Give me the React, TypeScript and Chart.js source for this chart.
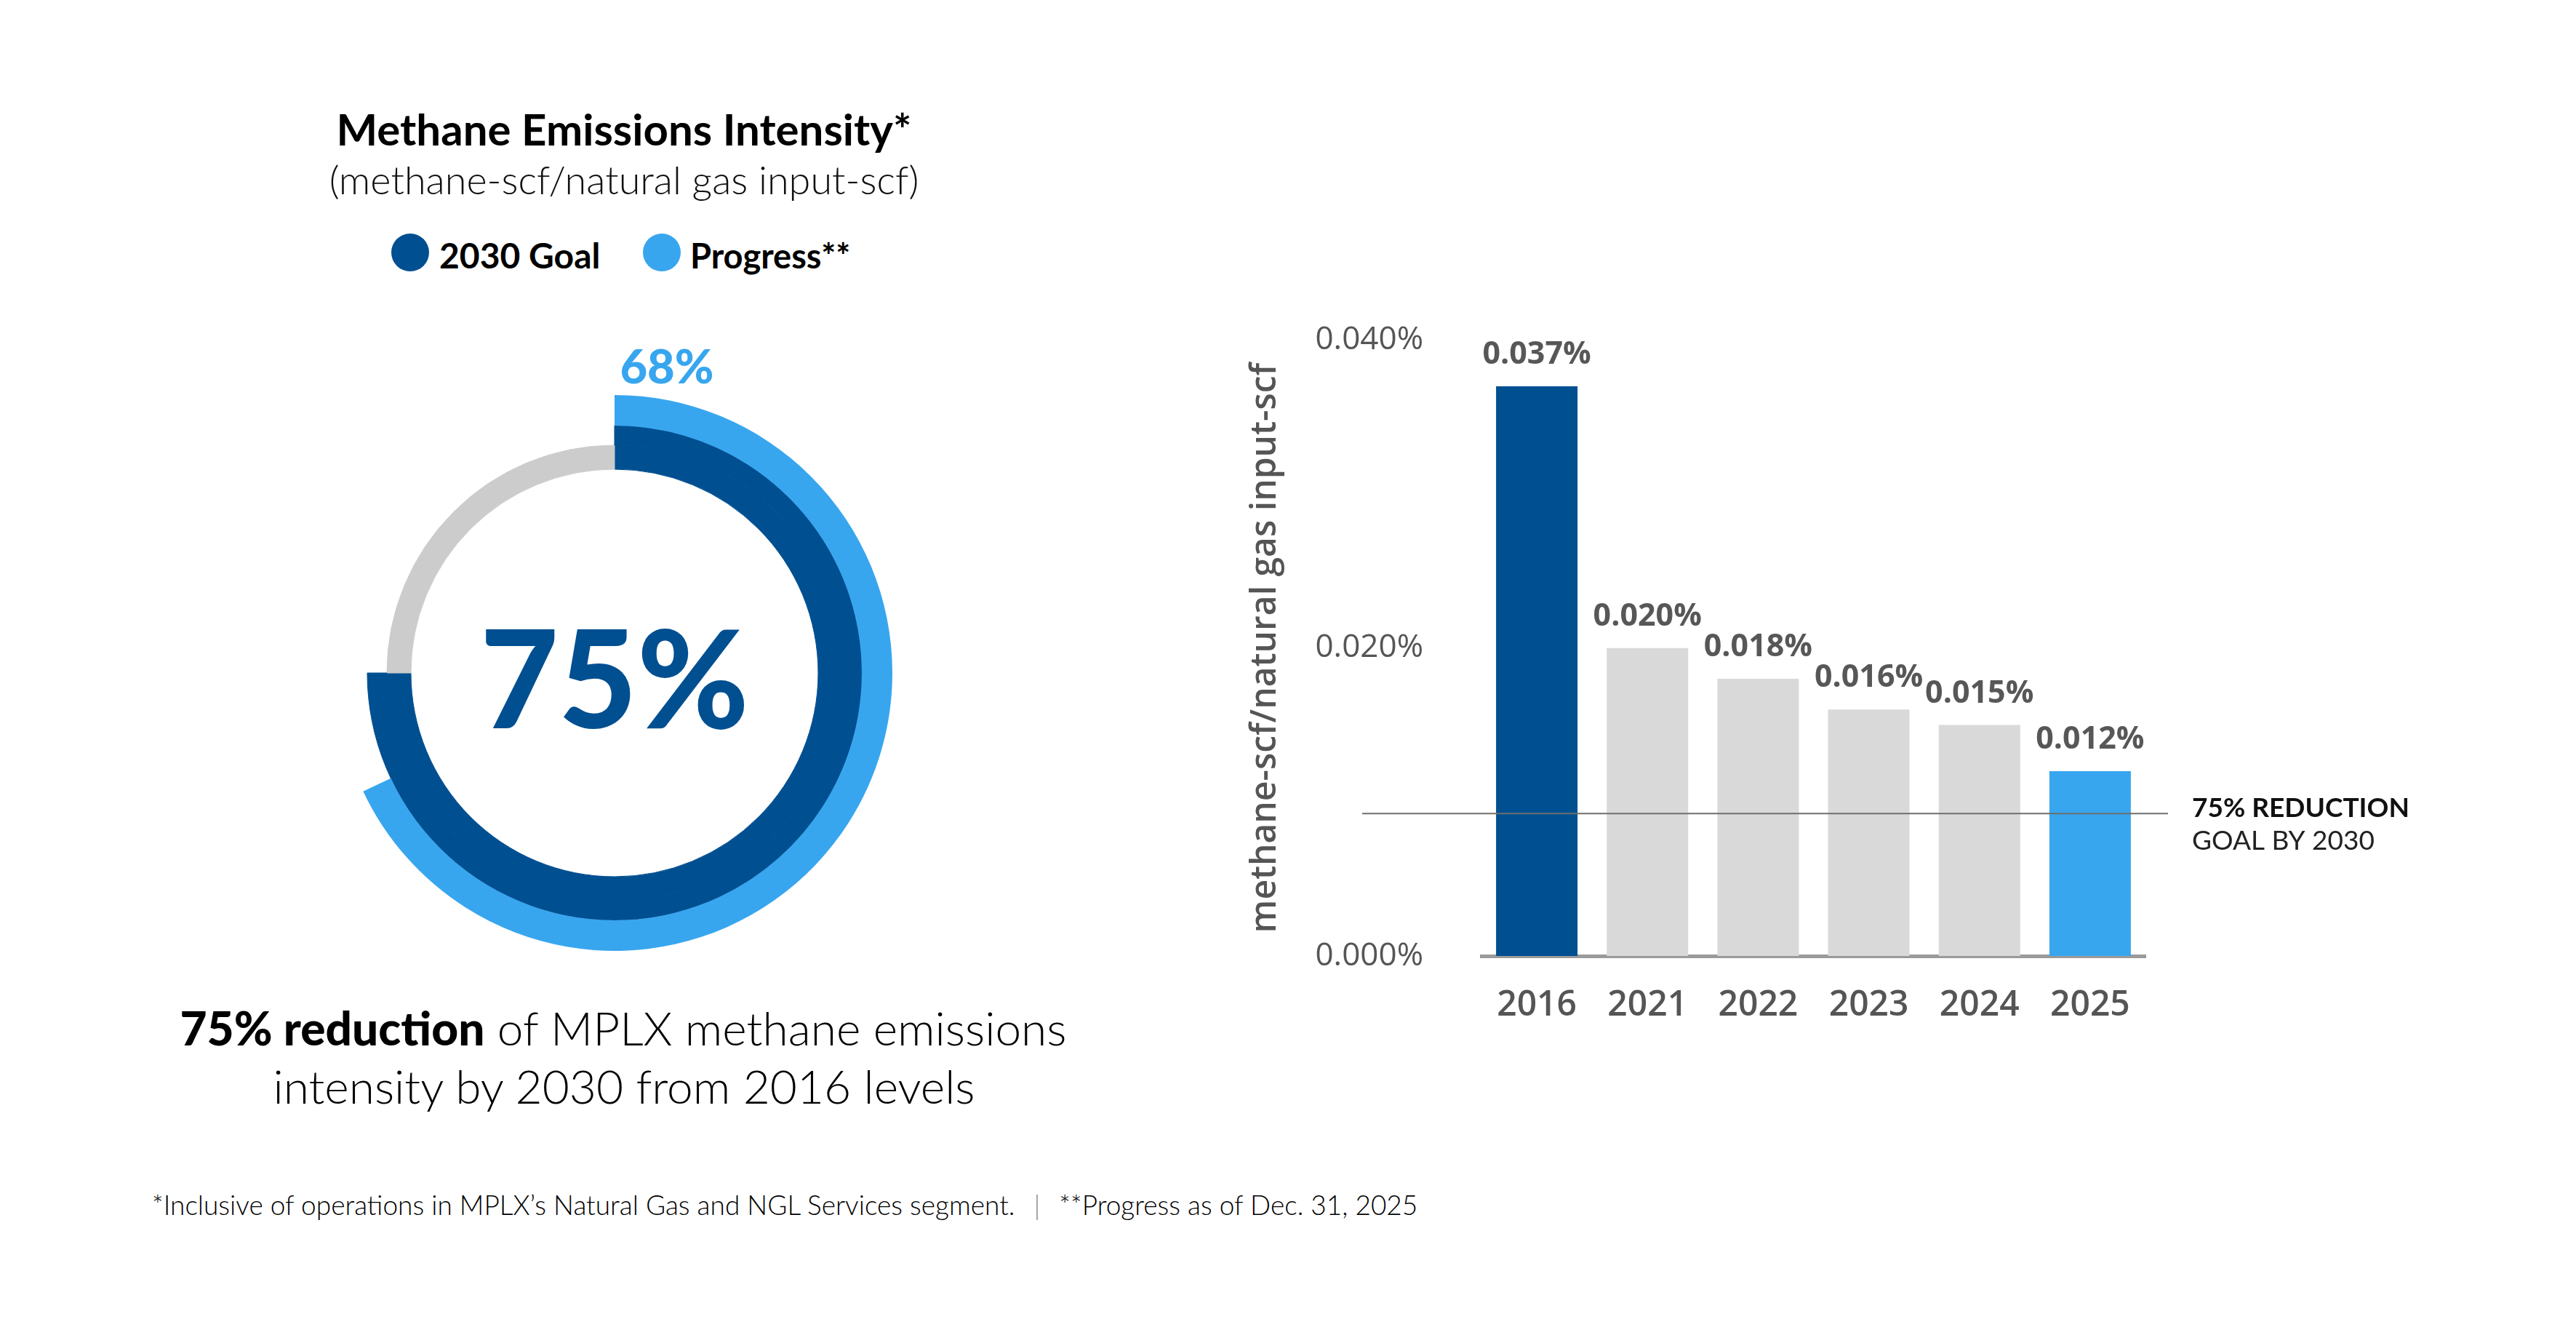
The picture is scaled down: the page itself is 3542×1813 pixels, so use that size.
import React, { useEffect, useRef } from 'react'
import { Chart, registerables } from 'chart.js'

Chart.register(...registerables)

// bar chart data
const years = ['2016', '2021', '2022', '2023', '2024', '2025']
const intensity = [0.037, 0.02, 0.018, 0.016, 0.015, 0.012]
const yTicks = [0, 0.02, 0.04]
const goalIntensity = 0.00925

// donut data (percent)
const goalPct = 75
const progressPct = 68

const DARK = '#004f91'
const LIGHT = '#38a6ef'
const BAR_GRAY = '#d9d9d9'
const RING_GRAY = '#cccccc'
const TEXT_GRAY = '#555555'
const CLEAR = 'rgba(0,0,0,0)'

const barColors = years.map((_, i) => (i === 0 ? DARK : i === years.length - 1 ? LIGHT : BAR_GRAY))

// text placed by baseline (Lato metrics, line-height = font size)
const Txt = ({ x, base, size, weight = 400, align = 'center', color = '#000', children }: any) => {
  const style: any = {
    position: 'absolute',
    top: base - 0.887 * size,
    fontFamily: 'Lato, sans-serif',
    fontSize: size,
    fontWeight: weight,
    lineHeight: `${size}px`,
    color,
    whiteSpace: 'nowrap',
  }
  if (align === 'center') {
    style.left = x - 1500
    style.width = 3000
    style.textAlign = 'center'
  } else {
    style.left = x
  }
  return <div style={style}>{children}</div>
}

const Dot = ({ x, y, color }: any) => (
  <div style={{ position: 'absolute', left: x - 26, top: y - 26, width: 52, height: 52, borderRadius: '50%', background: color }} />
)

const Donut = () => {
  const ref = useRef<HTMLCanvasElement>(null)

  useEffect(() => {
    const chart = new Chart(ref.current as HTMLCanvasElement, {
      type: 'doughnut',
      data: {
        labels: ['value', 'rest'],
        datasets: [
          {
            data: [progressPct, 100 - progressPct],
            backgroundColor: [LIGHT, CLEAR],
            borderWidth: 0,
            weight: 42,
          },
          {
            data: [goalPct, 100 - goalPct],
            backgroundColor: [DARK, CLEAR],
            borderColor: [DARK, CLEAR],
            borderWidth: 1,
            weight: 27,
          },
          {
            data: [goalPct, 100 - goalPct],
            backgroundColor: [DARK, RING_GRAY],
            borderColor: [DARK, RING_GRAY],
            borderWidth: 1,
            weight: 33,
          },
        ],
      },
      options: {
        animation: false,
        responsive: false,
        events: [],
        radius: 382,
        cutout: '73.3%',
        plugins: { legend: { display: false }, tooltip: { enabled: false } },
      } as any,
    })
    return () => chart.destroy()
  }, [])

  return (
    <canvas
      ref={ref}
      width={900}
      height={900}
      style={{ position: 'absolute', left: 395, top: 475, width: 900, height: 900 }}
    />
  )
}

const barLabels = {
  id: 'barLabels',
  afterDatasetsDraw(chart: any) {
    const { ctx, chartArea, scales } = chart
    const meta = chart.getDatasetMeta(0)
    ctx.save()
    ctx.font = '700 43px "Open Sans"'
    ctx.fillStyle = '#575757'
    ctx.textAlign = 'center'
    ctx.textBaseline = 'alphabetic'
    meta.data.forEach((bar: any, i: number) => {
      ctx.fillText(intensity[i].toFixed(3) + '%', bar.x, bar.y - 31)
    })

    // 2030 goal line
    const gy = scales.y.getPixelForValue(goalIntensity)
    ctx.strokeStyle = '#6e6e6e'
    ctx.lineWidth = 2
    ctx.beginPath()
    ctx.moveTo(chartArea.left - 164, gy)
    ctx.lineTo(chartArea.right + 31, gy)
    ctx.stroke()

    ctx.textAlign = 'left'
    ctx.textBaseline = 'alphabetic'
    ctx.fillStyle = '#111'
    ctx.font = '700 37px Lato'
    ctx.fillText('75% REDUCTION', chartArea.right + 64, gy + 5)
    ctx.fillStyle = '#222'
    ctx.font = '400 37px Lato'
    ctx.fillText('GOAL BY 2030', chartArea.right + 64, gy + 50)
    ctx.restore()
  },
}

const Bars = () => {
  const ref = useRef<HTMLCanvasElement>(null)

  useEffect(() => {
    const chart = new Chart(ref.current as HTMLCanvasElement, {
      type: 'bar',
      data: {
        labels: years,
        datasets: [
          {
            data: intensity,
            backgroundColor: barColors,
            borderWidth: 0,
            categoryPercentage: 1,
            barPercentage: 0.736,
          },
        ],
      },
      options: {
        animation: false,
        responsive: false,
        events: [],
        layout: { padding: { top: 50, right: 440, left: 0, bottom: 0 } },
        plugins: { legend: { display: false }, tooltip: { enabled: false } },
        scales: {
          x: {
            grid: { display: false, drawTicks: false },
            border: { display: true, color: '#9a9a9a', width: 5 },
            ticks: {
              color: TEXT_GRAY,
              font: { family: 'Open Sans', size: 48, weight: '600' },
              padding: 40,
            },
            afterFit: (s: any) => {
              s.height = 166
            },
          },
          y: {
            min: 0,
            max: 0.04,
            afterBuildTicks: (s: any) => {
              s.ticks = yTicks.map((v) => ({ value: v }))
            },
            grid: { display: false, drawTicks: false },
            border: { display: false },
            ticks: {
              color: TEXT_GRAY,
              font: { family: 'Open Sans', size: 44 },
              padding: 80,
              callback: (v: any) => Number(v).toFixed(3) + '%',
            },
            title: {
              display: true,
              text: 'methane-scf/natural gas input-scf',
              color: TEXT_GRAY,
              font: { family: 'Open Sans', size: 48, weight: '600' },
              padding: { top: 22, bottom: 0 },
            },
            afterFit: (s: any) => {
              s.width = 347
            },
          },
        },
      } as any,
      plugins: [barLabels],
    })
    return () => chart.destroy()
  }, [])

  return (
    <canvas
      ref={ref}
      width={1700}
      height={1119}
      style={{ position: 'absolute', left: 1690, top: 361, width: 1700, height: 1119 }}
    />
  )
}

const App = () => {
  return (
    <div style={{ position: 'fixed', left: 0, top: 0, width: 3542, height: 1813, background: '#fff', overflow: 'hidden' }}>
      <Txt x={858} base={200} size={60} weight={700}>Methane Emissions Intensity*</Txt>
      <Txt x={858} base={268} size={54} weight={300} color="#111">(methane-scf/natural gas input-scf)</Txt>

      <Dot x={564} y={347} color={DARK} />
      <Txt x={604} base={370} size={48} weight={700} align="left">2030 Goal</Txt>
      <Dot x={910} y={347} color={LIGHT} />
      <Txt x={949} base={370} size={47} weight={700} align="left">Progress**</Txt>

      <Donut />
      <Txt x={917} base={528} size={65} weight={900} color={LIGHT}>{progressPct}%</Txt>
      <Txt x={845} base={1001} size={186} weight={900} color={DARK}>{goalPct}%</Txt>

      <Txt x={857} base={1438} size={64} weight={300} color="#000">
        <b style={{ fontWeight: 900 }}>75% reduction</b> of MPLX methane emissions
      </Txt>
      <Txt x={858} base={1518} size={64} weight={300} color="#000">intensity by 2030 from 2016 levels</Txt>

      <Txt x={209} base={1670} size={37} weight={300} align="left" color="#000">
        *Inclusive of operations in MPLX’s Natural Gas and NGL Services segment.
        <span style={{ color: '#888', margin: '0 26px' }}>|</span>
        **Progress as of Dec. 31, 2025
      </Txt>

      <Bars />
    </div>
  )
}

export default App
